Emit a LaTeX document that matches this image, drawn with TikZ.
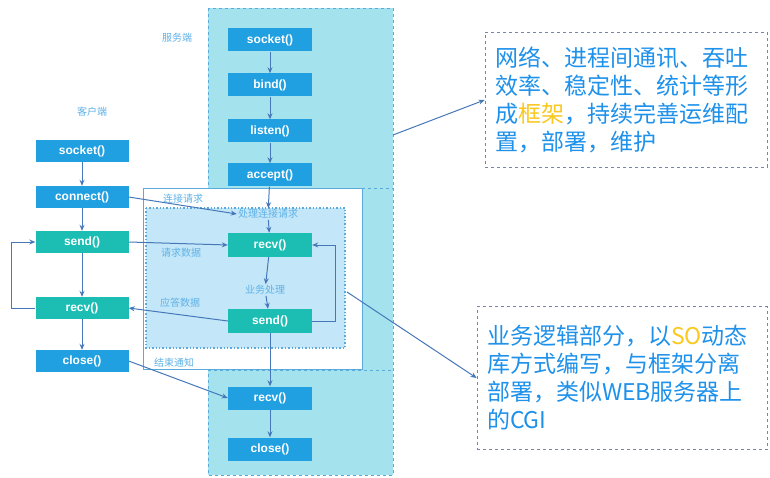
\documentclass[tikz,border=0pt]{standalone}
\usepackage{fontspec}
\setmainfont{Liberation Sans}
\newfontfamily\cjk{Noto Sans CJK SC}
\usetikzlibrary{arrows.meta}
\definecolor{cyanbg}{RGB}{164,226,238}
\definecolor{blueN}{RGB}{32,160,225}
\definecolor{tealN}{RGB}{28,190,180}
\definecolor{arr}{RGB}{70,120,185}
\definecolor{lab}{RGB}{95,178,230}
\definecolor{txt}{RGB}{30,145,235}
\definecolor{hl}{RGB}{250,200,30}
\definecolor{innerbg}{RGB}{195,230,248}
\definecolor{bord}{RGB}{90,170,220}
\definecolor{cbord}{RGB}{120,130,170}
\begin{document}
\begin{tikzpicture}[x=1pt,y=-1pt,
  fn/.style={draw=none, minimum width=93pt, minimum height=22pt, text=white,
    font=\bfseries\fontsize{12}{12}\selectfont, inner sep=0pt},
  bn/.style={fn, fill=blueN},
  tn/.style={fn, fill=tealN},
  sbn/.style={bn, minimum width=84pt, minimum height=23pt},
  stn/.style={tn, minimum width=84pt, minimum height=24pt},
  ar/.style={draw=arr, line width=1pt, -{Stealth[length=6pt,width=5pt]}},
  lbl/.style={text=lab, font=\cjk\fontsize{10}{10}\selectfont, inner sep=1pt},
  callout/.style={draw=cbord, dashed, line width=0.8pt, text=txt, align=left,
    font=\cjk\fontsize{23}{28}\selectfont, inner xsep=10pt, inner ysep=0pt}
]
\useasboundingbox (0,0) rectangle (770,478);
\fill[white] (0,0) rectangle (770,478);
% backgrounds
\path[fill=cyanbg, draw=bord, dashed, line width=0.8pt] (208,8) rectangle (393,475);
\draw[bord, dashed, line width=0.8pt] (362,188) -- (393,188);
\draw[bord, dashed, line width=0.8pt] (208,370) -- (393,370);
\path[fill=white, draw=bord, line width=0.6pt] (143,188) rectangle (362,369);
\path[fill=innerbg, draw=bord, dotted, line width=1.4pt] (146,208) rectangle (345,348);

% labels
\node[lbl] (lserver) at (177,38) {服务端};
\node[lbl] (lclient) at (92,112) {客户端};

% client
\node[bn] (csock) at (82,151) {socket()};
\node[bn] (cconn) at (82,197) {connect()};
\node[tn] (csend) at (82,242) {send()};
\node[tn] (crecv) at (82,308) {recv()};
\node[bn] (cclose) at (82,361) {close()};

% server
\node[sbn] (ssock) at (270,40) {socket()};
\node[sbn] (sbind) at (270,85) {bind()};
\node[sbn] (slist) at (270,131) {listen()};
\node[sbn] (sacc) at (270,175) {accept()};
\node[lbl] (pl) at (268,214) {处理连接请求};
\node[stn] (srecv) at (270,245) {recv()};
\node[lbl] (pb) at (265,290) {业务处理};
\node[stn] (ssend) at (270,321) {send()};
\node[sbn] (srecv2) at (270,398) {recv()};
\node[sbn] (sclose) at (270,449) {close()};

% transfer labels
\node[lbl] (l1) at (183,199) {连接请求};
\node[lbl] (l2) at (181,253) {请求数据};
\node[lbl] (l3) at (180,303) {应答数据};
\node[lbl] (l4) at (174,363) {结束通知};

% client arrows
\draw[ar] (csock) -- (cconn);
\draw[ar] (cconn) -- (csend);
\draw[ar] (csend) -- (crecv);
\draw[ar] (crecv) -- (cclose);
\draw[ar] (crecv.west) -- ++(-24,0) |- (csend.west);

% server arrows
\draw[ar] (ssock) -- (sbind);
\draw[ar] (sbind) -- (slist);
\draw[ar] (slist) -- (sacc);
\draw[ar] (sacc) -- (pl);
\draw[ar] (pl) -- (srecv);
\draw[ar] (srecv) -- (pb);
\draw[ar] (pb) -- (ssend);
\draw[ar] (ssend.east) -- ++(23,0) |- (srecv.east);
\draw[ar] (ssend) -- (srecv2);
\draw[ar] (srecv2) -- (sclose);

% cross arrows
\draw[ar] (cconn.east) -- (pl.west);
\draw[ar] (csend.east) -- (srecv.west);
\draw[ar] (ssend.west) -- (crecv.east);
\draw[ar] (cclose.east) -- (srecv2.west);

% callouts
\node[callout, minimum width=282pt, minimum height=135pt, text width=262pt] (t1) at (626,100)
  {网络、进程间通讯、吞吐\\效率、稳定性、统计等形\\成\textcolor{hl}{框架}，持续完善运维配\\置，部署，维护};
\node[callout, minimum width=290pt, minimum height=143pt, text width=270pt] (t2) at (622,378)
  {业务逻辑部分，以\textcolor{hl}{SO}动态\\库方式编写，与框架分离\\部署，类似WEB服务器上\\的CGI};
\coordinate (o1) at (393,135);
\coordinate (o2) at (347,292);
\draw[ar] (o1) -- (t1.west);
\draw[ar] (o2) -- (t2.west);
\end{tikzpicture}
\end{document}
